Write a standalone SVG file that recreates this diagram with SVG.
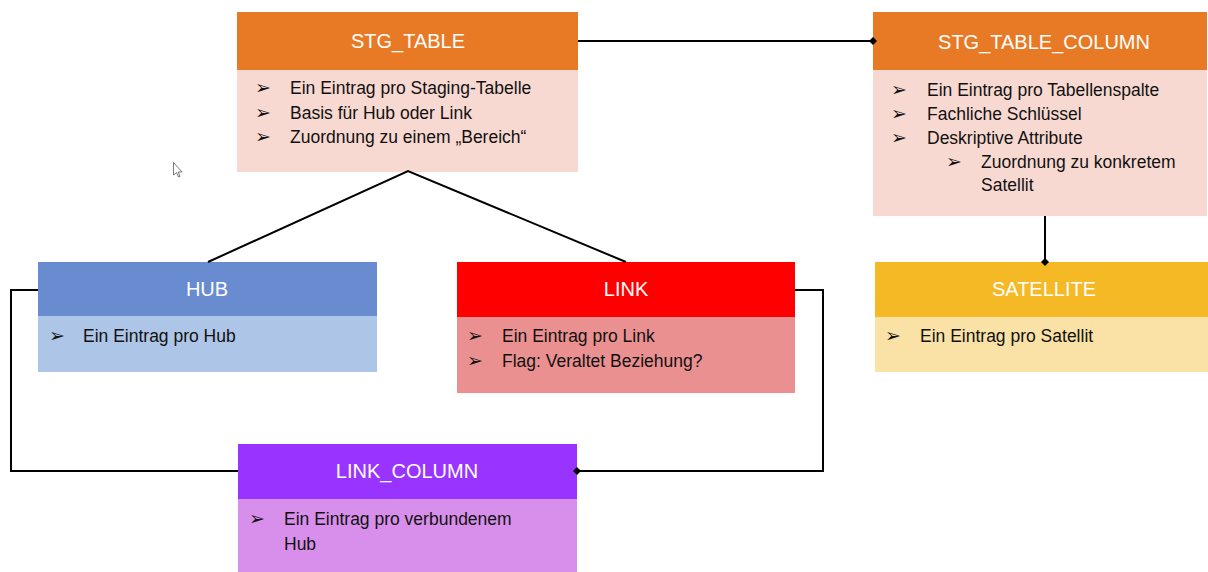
<svg xmlns="http://www.w3.org/2000/svg" width="1208" height="572" viewBox="0 0 1208 572">
<defs>
<marker id="dia" viewBox="0 0 10 10" refX="5" refY="5" markerWidth="8" markerHeight="8" markerUnits="userSpaceOnUse" orient="auto">
<path d="M0,5 L5,0 L10,5 L5,10 Z" fill="#000"/>
</marker>
<style>
.title{font-family:"Liberation Sans",Arial,sans-serif;font-size:20px;fill:#fff;text-anchor:middle;dominant-baseline:central}
.txt{font-family:"Liberation Sans",Arial,sans-serif;font-size:17.5px;fill:#111}
.bul{font-family:"DejaVu Sans",sans-serif;font-size:19px;fill:#111}
.con{fill:none;stroke:#000;stroke-width:2}
</style>
</defs>
<rect width="1208" height="572" fill="#fff"/>

<g id="stg_table">
<rect x="237" y="12" width="341" height="58" fill="#E87A25"/>
<rect x="237" y="70" width="341" height="102" fill="#F8D9D1"/>
<text class="title" x="408" y="41">STG_TABLE</text>
<text class="bul" x="255" y="94">➢</text><text class="txt" x="290" y="94">Ein Eintrag pro Staging-Tabelle</text>
<text class="bul" x="255" y="119">➢</text><text class="txt" x="290" y="119">Basis für Hub oder Link</text>
<text class="bul" x="255" y="143">➢</text><text class="txt" x="290" y="143">Zuordnung zu einem „Bereich“</text>
</g>

<g id="stg_table_column">
<rect x="873" y="12" width="334" height="58" fill="#E87A25"/>
<rect x="873" y="70" width="334" height="146" fill="#F8D9D1"/>
<text class="title" x="1044" y="42">STG_TABLE_COLUMN</text>
<text class="bul" x="891" y="96">➢</text><text class="txt" x="927" y="96">Ein Eintrag pro Tabellenspalte</text>
<text class="bul" x="891" y="120">➢</text><text class="txt" x="927" y="120">Fachliche Schlüssel</text>
<text class="bul" x="891" y="144">➢</text><text class="txt" x="927" y="144">Deskriptive Attribute</text>
<text class="bul" x="946" y="168">➢</text><text class="txt" x="981" y="168">Zuordnung zu konkretem</text>
<text class="txt" x="981" y="191">Satellit</text>
</g>

<g id="hub">
<rect x="38" y="262" width="339" height="54" fill="#698BD0"/>
<rect x="38" y="316" width="339" height="56" fill="#ADC6E7"/>
<text class="title" x="207" y="289">HUB</text>
<text class="bul" x="49" y="342">➢</text><text class="txt" x="83" y="342">Ein Eintrag pro Hub</text>
</g>

<g id="link">
<rect x="457" y="262" width="338" height="55" fill="#FF0000"/>
<rect x="457" y="317" width="338" height="76" fill="#EA9090"/>
<text class="title" x="626" y="289">LINK</text>
<text class="bul" x="467" y="342">➢</text><text class="txt" x="502" y="342">Ein Eintrag pro Link</text>
<text class="bul" x="467" y="367">➢</text><text class="txt" x="502" y="367">Flag: Veraltet Beziehung?</text>
</g>

<g id="satellite">
<rect x="875" y="262" width="333" height="55" fill="#F4B924"/>
<rect x="875" y="317" width="333" height="55" fill="#FAE2A6"/>
<text class="title" x="1044" y="289">SATELLITE</text>
<text class="bul" x="885" y="342">➢</text><text class="txt" x="920" y="342">Ein Eintrag pro Satellit</text>
</g>

<g id="link_column">
<rect x="238" y="444" width="339" height="55" fill="#9933FF"/>
<rect x="238" y="499" width="339" height="73" fill="#D88FEC"/>
<text class="title" x="407" y="471">LINK_COLUMN</text>
<text class="bul" x="249" y="525">➢</text><text class="txt" x="284" y="525">Ein Eintrag pro verbundenem</text>
<text class="txt" x="284" y="550">Hub</text>
</g>

<g id="connectors">
<path class="con" d="M578,41 L873,41" marker-end="url(#dia)"/>
<path class="con" d="M208,262 L408,171 L626,262"/>
<path class="con" d="M1045,216 L1045,262" marker-end="url(#dia)"/>
<path class="con" d="M38,290 L11,290 L11,471 L238,471"/>
<path class="con" d="M795,290 L823,290 L823,471 L577,471" marker-end="url(#dia)"/>
</g>

<path d="M173.5,162.5 L173.5,175 L176.5,172.5 L178.5,177 L180,176.3 L178.2,172 L182,172 Z" fill="#fff" stroke="#555" stroke-width="0.8"/>
</svg>
